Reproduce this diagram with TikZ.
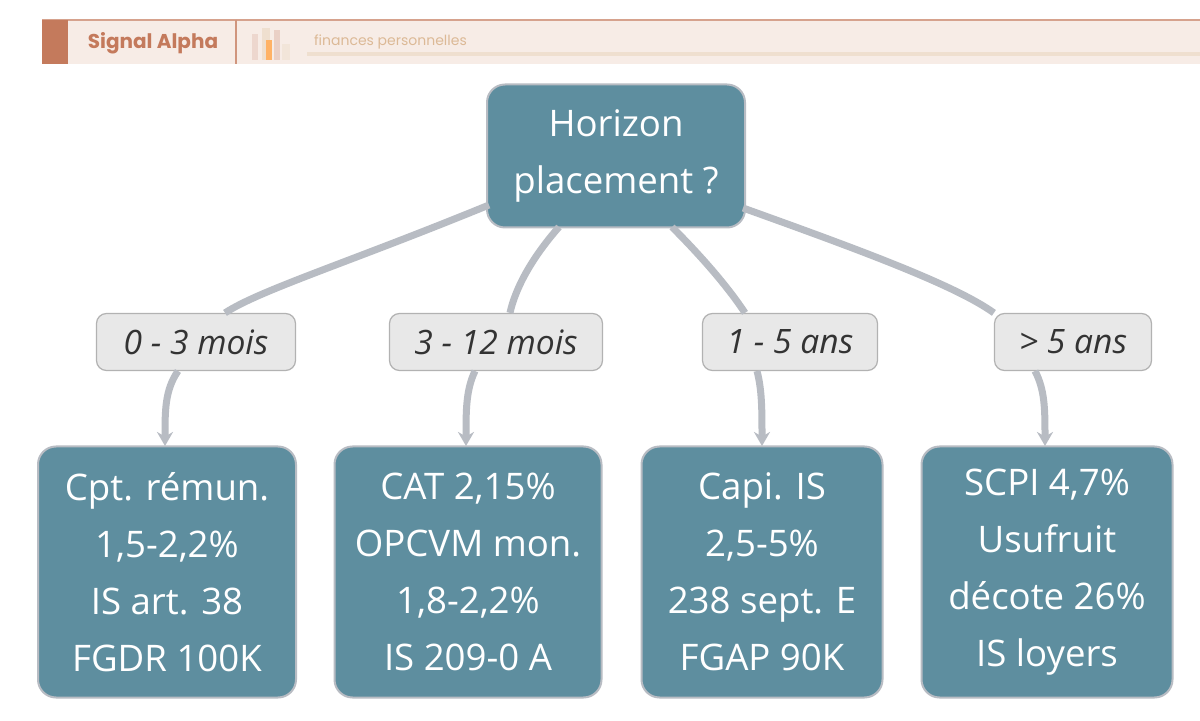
\documentclass[tikz,border=0pt]{standalone}
\usepackage{fontspec}
\setmainfont{Open Sans}
\newfontfamily\headfont{Poppins}
\usetikzlibrary{arrows.meta, positioning}
\definecolor{teal}{HTML}{5E8E9F}
\definecolor{edgegrey}{HTML}{B8BCC3}
\definecolor{tagfill}{HTML}{E8E8E8}
\definecolor{brand}{HTML}{C47A5C}
\definecolor{bandfill}{HTML}{F7ECE6}
\begin{document}
\begin{tikzpicture}[
    x=0.5pt, y=-0.5pt,
    every node/.style={font=\fontsize{18.3}{28.5}\selectfont},
    topnode/.style={
        rectangle,
        rounded corners=9pt,
        draw=edgegrey,
        line width=1pt,
        fill=teal,
        text=white,
        align=center,
        inner sep=0pt
    },
    tagnode/.style={
        rectangle,
        rounded corners=5pt,
        draw=black!30,
        line width=0.6pt,
        fill=tagfill,
        text=black!80,
        font=\fontsize{16.8}{18}\selectfont\itshape,
        inner sep=0pt
    },
    branch/.style={edgegrey, line width=3.5pt},
    arrowbranch/.style={edgegrey, line width=3.5pt, -{Stealth[length=7pt, width=8pt]}}
]
\useasboundingbox (0,0) rectangle (1200,721);
\fill[white] (0,0) rectangle (1200,721);

% header band
\fill[bandfill] (42,20) rectangle (1200,64);
\draw[brand!70, line width=0.6pt] (42,20) -- (1200,20);
\fill[brand] (42,20) rectangle (68,64);
\draw[brand!80, line width=0.6pt] (236,20) -- (236,64);
\node[font=\headfont\bfseries\fontsize{10}{12}\selectfont, text=brand] (brandname) at (153,43) {Signal Alpha};
\fill[brand!30] (252,34) rectangle (258,60);
\fill[brown!25] (262,28) rectangle (270,60);
\fill[orange!60] (266,40) rectangle (272,60);
\fill[brand!35] (274,30) rectangle (280,60);
\fill[brown!20] (282,44) rectangle (290,60);
\node[font=\headfont\fontsize{7}{9}\selectfont, text=brown!55, anchor=west] (subtitle) at (307,42) {finances personnelles};
\fill[brown!25] (307,52) rectangle (1200,56);

% nodes
\node[topnode, minimum width=129pt, minimum height=71.5pt] (root) at (616,156) {Horizon\\placement ?};

\node[tagnode, minimum width=99.5pt, minimum height=28.5pt] (short) at (196,342) {0 - 3 mois};
\node[tagnode, minimum width=106.5pt, minimum height=28.5pt] (year) at (496,342) {3 - 12 mois};
\node[tagnode, minimum width=87.5pt, minimum height=28.5pt] (mid) at (790,342) {1 - 5 ans};
\node[tagnode, minimum width=78.5pt, minimum height=28.5pt] (long) at (1073,342) {> 5 ans};

\node[topnode, minimum width=129pt, minimum height=125.5pt] (livret) at (167,572)
    {Cpt. rémun.\\1,5-2,2\%\\IS art. 38\\FGDR 100K};
\node[topnode, minimum width=133.5pt, minimum height=125.5pt] (cat) at (468,572)
    {CAT 2,15\%\\OPCVM mon.\\1,8-2,2\%\\IS 209-0 A};
\node[topnode, minimum width=120.5pt, minimum height=125.5pt] (capi) at (762,572)
    {Capi. IS\\2,5-5\%\\238 sept. E\\FGAP 90K};
\node[topnode, minimum width=125.5pt, minimum height=125.5pt] (scpi) at (1047,572)
    {SCPI 4,7\%\\Usufruit\\décote 26\%\\IS loyers};

% connector ends
\coordinate (r1) at (489,205);
\coordinate (r2) at (559,227);
\coordinate (r3) at (672,227);
\coordinate (r4) at (743,208);
\coordinate (s1) at (178,371);
\coordinate (s2) at (475,371);
\coordinate (s3) at (757,371);
\coordinate (s4) at (1035,371);
\coordinate (t1) at (165,446);
\coordinate (t2) at (466,446);
\coordinate (t3) at (762,446);
\coordinate (t4) at (1045,446);

% connectors
\draw[branch] (r1) .. controls (350,262) and (260,290) .. (short.north -| 225,0);
\draw[branch] (r2) .. controls (530,260) and (515,290) .. (year.north -| 510,0);
\draw[branch] (r3) .. controls (705,260) and (730,290) .. (mid.north -| 745,0);
\draw[branch] (r4) .. controls (860,250) and (955,285) .. (long.north west);

\draw[arrowbranch] (s1) .. controls (165,390) and (165,410) .. (t1);
\draw[arrowbranch] (s2) .. controls (466,390) and (466,410) .. (t2);
\draw[arrowbranch] (s3) .. controls (762,390) and (762,410) .. (t3);
\draw[arrowbranch] (s4) .. controls (1045,390) and (1045,410) .. (t4);
\end{tikzpicture}
\end{document}
